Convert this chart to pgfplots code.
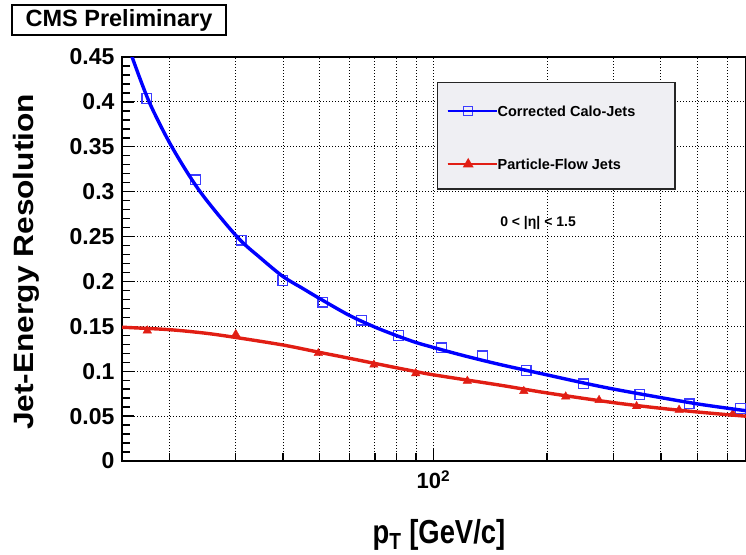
\documentclass[border=0pt]{standalone}
\usepackage{pgfplots}
\pgfplotsset{compat=1.18}
\usepackage{fontspec}
\setmainfont{Liberation Sans}
\usepackage{graphicx}
\definecolor{rootblue}{RGB}{0,0,255}
\definecolor{markblue}{RGB}{60,60,255}
\definecolor{rootred}{RGB}{225,30,20}
\definecolor{leggray}{RGB}{239,239,243}
\newcommand\fs[1]{\fontsize{#1}{#1}\selectfont\bfseries}

\begin{document}
\begin{tikzpicture}
\begin{axis}[
  at={(0pt,0pt)}, anchor=south west,
  scale only axis, width=624pt, height=404pt,
  xmode=log, xmin=15, xmax=672, ymin=0, ymax=0.45,
  xtick={100}, xticklabels={10\textsuperscript{2}},
  minor xtick={20,30,40,50,60,70,80,90,200,300,400,500,600},
  ytick={0,0.05,0.1,0.15,0.2,0.25,0.3,0.35,0.4,0.45}, minor y tick num=4,
  xmajorgrids, xminorgrids, ymajorgrids,
  grid style={black, line width=0.9pt, dash pattern=on 1pt off 2pt},
  major grid style={black, line width=0.9pt, dash pattern=on 1pt off 2pt},
  minor grid style={black, line width=0.9pt, dash pattern=on 1pt off 2pt},
  axis line style={line width=1.6pt},
  every tick/.style={black, line width=1.4pt},
  major tick length=12pt, minor tick length=8pt,
  tick pos=left,
  /pgf/number format/assume math mode=true,
  yticklabel style={/pgf/number format/fixed, /pgf/number format/precision=2, font=\fs{23}, xshift=-4pt},
  xticklabel style={font=\fs{22}, yshift=-6pt},
  xlabel={\scalebox{1.03}[1.25]{p\textsubscript{T} [GeV/c]}},
  xlabel style={font=\fs{26.6}, at={(axis description cs:0.508,-0.2054)}, anchor=base},
  ylabel={\scalebox{1.19}[1.05]{Jet-Energy Resolution}},
  ylabel style={font=\fs{26.6}, at={(axis description cs:-0.1426,0.493)}, anchor=base},
  clip mode=individual,
  legend style={draw=none, fill=none, at={(rel axis cs:0.5202,0.8793)}, anchor=north west,
    inner sep=0pt, row sep=42.5pt, font=\fs{14.5},
    nodes={inner sep=0pt, text height=10.5pt, text depth=0pt}},
  legend cell align=left,
  legend image code/.code={\draw[mark repeat=2,mark phase=2,#1] plot coordinates {(0pt,0pt) (20.5pt,0pt) (41pt,0pt)}; \path (0pt,0pt) -- (49pt,0pt);},
]
% legend box
\draw[fill=leggray, draw=black!85, line width=1.2pt] (rel axis cs:0.5053,0.9364) rectangle (rel axis cs:0.8862,0.6733);

% markers: corrected calo-jets
\addplot[only marks, mark=square, mark size=4.9pt, mark options={markblue, line width=1.2pt}, forget plot] coordinates {
(17.45,0.404) (23.5,0.313) (31.0,0.246) (40.0,0.201) (51.0,0.177) (64.6,0.157)
(81.0,0.140) (105,0.126) (135,0.117) (176,0.1005) (250,0.0858) (352,0.0742)
(475,0.0636) (650,0.0586)};
% markers: particle-flow jets
\addplot[only marks, mark=triangle*, mark size=4.9pt, mark options={rootred}, forget plot] coordinates {
(17.5,0.1452) (30.0,0.1412) (49.6,0.1200) (69.6,0.1072) (89.8,0.0976) (123,0.0892)
(173.5,0.0778) (224,0.0717) (274.5,0.0678) (345,0.0609) (447,0.0569) (620,0.0526)};

% fit curves
\addplot[rootblue, line width=3.4pt, smooth, forget plot] coordinates {
(15.92,0.451) (17.70,0.400) (20.32,0.350) (24.14,0.300) (30.2,0.250) (34.8,0.2265)
(40,0.2055) (45,0.1925) (50,0.1810) (60,0.1621) (70,0.1492) (80,0.1396) (90,0.1320)
(100,0.1265) (120,0.1175) (150,0.1075) (200,0.0959) (250,0.0869) (300,0.0801)
(400,0.0706) (500,0.0636) (600,0.0588) (672,0.0560)};
\addplot[rootred, line width=3.4pt, smooth, forget plot] coordinates {
(15,0.149) (20,0.1463) (25,0.1423) (30,0.1376) (40,0.1292) (50,0.1210) (60,0.1144)
(70,0.1087) (80,0.1038) (90,0.0996) (100,0.0960) (150,0.0845) (200,0.0758)
(300,0.0650) (400,0.0587) (500,0.0546) (600,0.0516) (672,0.0499)};

\addlegendimage{rootblue, line width=1.8pt, mark=square, mark size=4.5pt, mark options={markblue, line width=1.2pt, solid}}
\addlegendentry{Corrected Calo-Jets}
\addlegendimage{rootred, line width=1.8pt, mark=triangle*, mark size=4.5pt, mark options={rootred}}
\addlegendentry{Particle-Flow Jets}

\node[font=\fs{14}] at (rel axis cs:0.6667,0.5884) {0 < |η| < 1.5};
\node[draw, line width=1.2pt, fill=white, minimum width=214pt, minimum height=30pt, inner sep=0pt, font=\fs{23.5}] at (rel axis cs:-0.0048,1.0916) {CMS Preliminary};
\end{axis}
\pgfresetboundingbox
\path[use as bounding box] (-122pt,-93pt) rectangle (624pt,461pt);
\end{tikzpicture}
\end{document}
